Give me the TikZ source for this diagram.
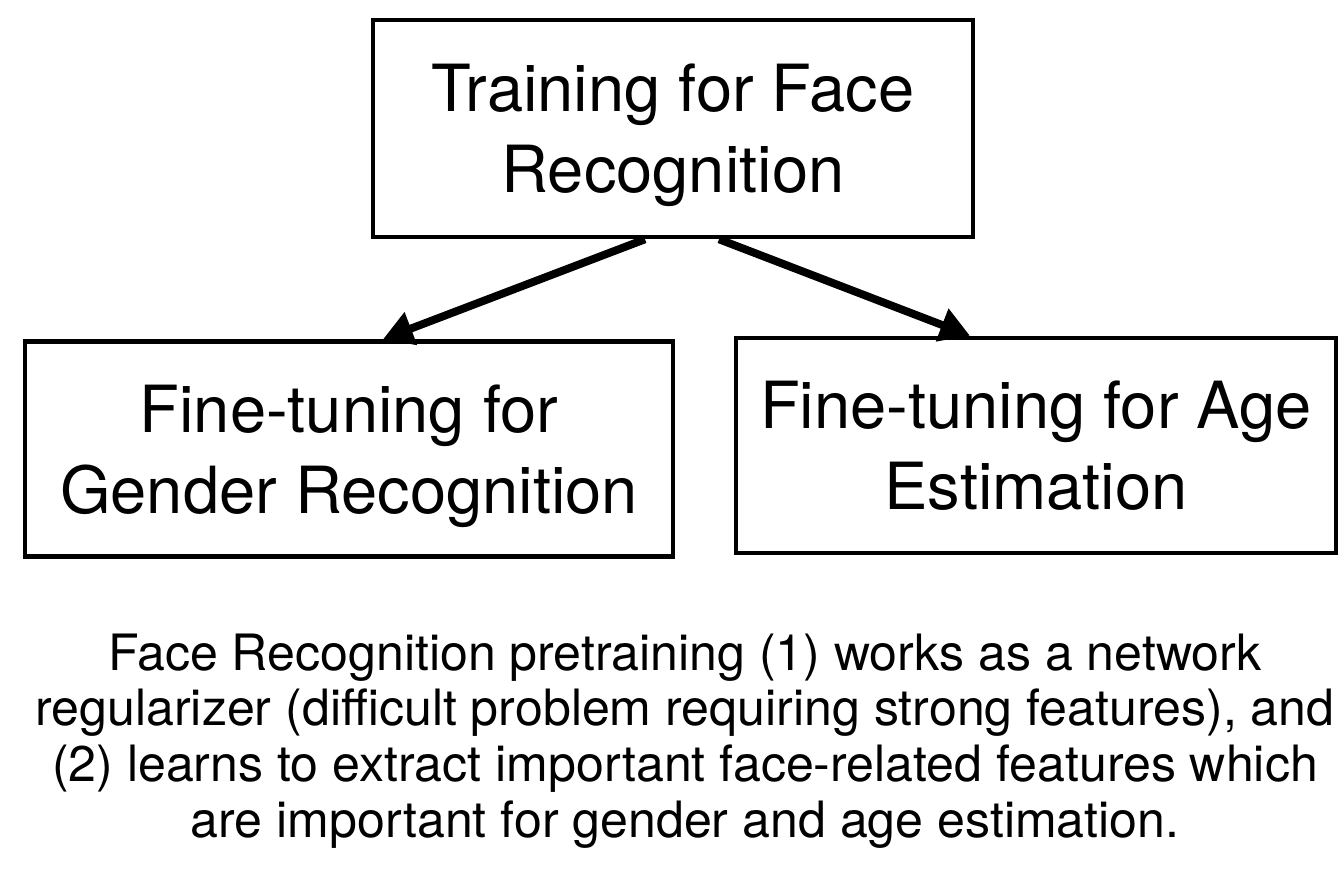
\documentclass[tikz,border=0pt]{standalone}
\usepackage{fontspec}
\setmainfont{TeX Gyre Heros}
\usetikzlibrary{arrows.meta, positioning}

\begin{document}
\begin{tikzpicture}[
    box/.style={draw, line width=2.6pt, inner sep=0pt, align=center,
                minimum height=4.3cm, text depth=0pt,
                font=\fontsize{37}{46}\selectfont},
    flow/.style={line width=4.5pt, -{Triangle[length=17pt, width=19pt]}},
    note/.style={align=center, font=\fontsize{28.5}{31.6}\selectfont}]
  \useasboundingbox (0,0) rectangle (26.78,-17.62);
  \clip (0,0) rectangle (26.78,-17.62);

  % pretraining stage and the two fine-tuning stages
  \node[box, minimum width=12cm, minimum height=4.34cm] (face) at (13.46,-2.57)
        {Training for Face\\Recognition};
  \node[box, minimum width=12.96cm] (gender) at (6.98,-8.98)
        {Fine-tuning for\\Gender Recognition};
  \node[box, minimum width=12cm] (age) at (20.72,-8.91)
        {Fine-tuning for Age\\Estimation};

  \draw[flow] ([xshift=-0.56cm]face.south) -- ([xshift=0.68cm]gender.north);
  \draw[flow] ([xshift=0.92cm]face.south) -- ([xshift=-1.32cm]age.north);

  % base sits on the last line of the note
  \node[note, anchor=base] (caption) at (13.7,-16.74)
        {Face Recognition pretraining (1) works as a network\\
         regularizer (difficult problem requiring strong features), and\\
         (2) learns to extract important face-related features which\\
         are important for gender and age estimation.};
\end{tikzpicture}
\end{document}
